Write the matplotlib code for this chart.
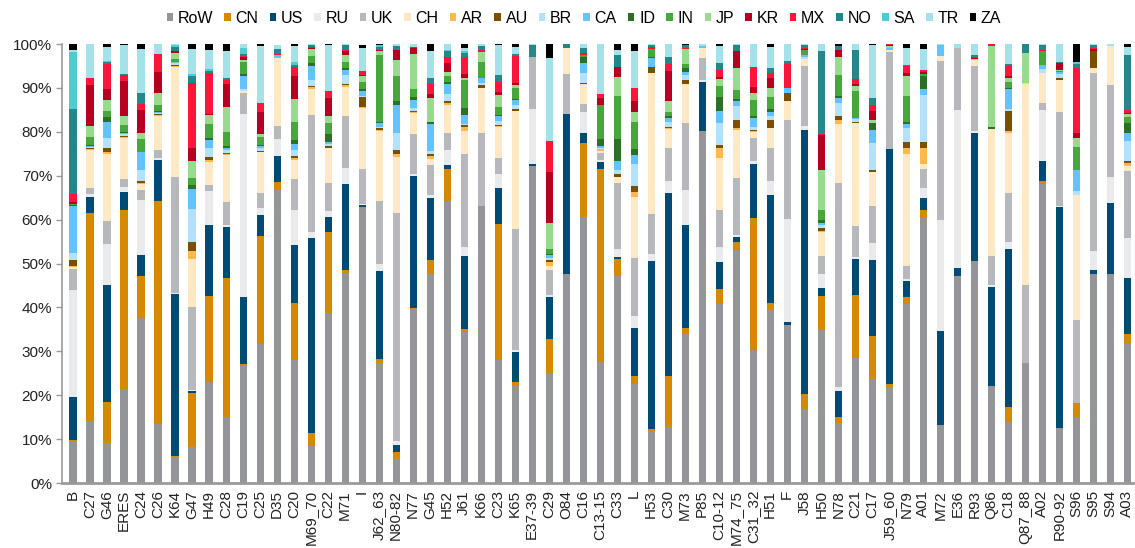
"""Stacked 100% bar chart of country shares by sector."""

import matplotlib

matplotlib.use("Agg")
import matplotlib.pyplot as plt
import numpy as np
from matplotlib.patches import Patch
from matplotlib.ticker import FuncFormatter

plt.rcParams["font.family"] = ["Liberation Sans", "DejaVu Sans"]

SECTORS = [
    "B", "C27", "G46", "ERES", "C24", "C26", "K64", "G47", "H49", "C28",
    "C19", "C25", "D35", "C20", "M69_70", "C22", "M71", "I", "J62_63", "N80-82",
    "N77", "G45", "H52", "J61", "K66", "C23", "K65", "E37-39", "C29", "O84",
    "C16", "C13-15", "C33", "L", "H53", "C30", "M73", "P85", "C10-12", "M74_75",
    "C31_32", "H51", "F", "J58", "H50", "N78", "C21", "C17", "J59_60", "N79",
    "A01", "M72", "E36", "R93", "Q86", "C18", "Q87_88", "A02", "R90-92", "S96",
    "S95", "S94", "A03",
]

COUNTRIES = ["RoW", "CN", "US", "RU", "UK", "CH", "AR", "AU", "BR", "CA",
             "ID", "IN", "JP", "KR", "MX", "NO", "SA", "TR", "ZA"]

# shares in percent, one value per sector (same order as SECTORS)
row = [9.6, 14.2, 9.0, 21.3, 37.7, 13.4, 6.0, 8.1, 23.1, 15.1,
       26.7, 31.6, 66.7, 28.0, 8.5, 38.8, 47.8, 62.6, 27.4, 5.4,
       39.6, 47.6, 64.2, 34.5, 63.2, 28.0, 22.1, 72.2, 25.1, 47.6,
       60.7, 27.6, 47.2, 22.5, 11.8, 12.8, 33.9, 80.2, 40.7, 53.1,
       30.3, 39.3, 36.1, 16.9, 34.9, 13.7, 28.4, 23.7, 21.8, 40.7,
       60.3, 13.2, 47.2, 50.6, 22.1, 14.0, 27.4, 68.1, 12.5, 15.1,
       47.5, 47.5, 31.8]
cn = [0.3, 47.3, 9.5, 40.9, 9.5, 50.8, 0.1, 12.5, 19.6, 31.5,
      0.3, 24.7, 1.9, 12.9, 3.0, 18.3, 0.7, 0.2, 0.8, 1.6,
      0.3, 3.2, 7.3, 0.6, 0, 31.0, 1.0, 0, 7.6, 0,
      16.8, 43.9, 3.8, 1.9, 0.6, 11.6, 1.3, 0, 3.5, 1.9,
      30.0, 1.8, 0, 3.4, 7.8, 1.4, 14.4, 9.9, 0.7, 1.7,
      1.9, 0, 0, 0, 0, 3.2, 0, 0.7, 0, 3.2,
      0, 0, 2.1]
us = [9.6, 3.7, 26.5, 4.2, 4.7, 9.4, 37.0, 0.4, 16.1, 11.8,
      15.4, 4.7, 5.9, 13.3, 44.4, 3.6, 19.6, 0.6, 20.1, 1.7,
      30.1, 14.2, 0.9, 16.5, 0, 8.1, 6.8, 0.5, 9.6, 36.5,
      2.3, 1.7, 0.4, 11.0, 38.2, 41.7, 23.6, 11.2, 6.2, 1.1,
      12.3, 24.5, 0.5, 60.0, 1.8, 5.9, 8.2, 17.2, 53.6, 3.7,
      2.8, 21.5, 1.7, 29.1, 22.6, 36.1, 0, 4.5, 50.3, 0,
      1.0, 16.2, 12.9]
ru = [24.5, 0.6, 9.4, 1.1, 12.6, 0.5, 0.2, 0.2, 7.8, 0.4,
      41.7, 1.6, 3.9, 8.0, 1.2, 1.3, 3.6, 0.2, 1.5, 0.9,
      0.4, 0.5, 3.5, 2.1, 0, 3.2, 0.4, 12.6, 0.5, 0,
      4.8, 0.4, 1.9, 2.6, 1.6, 2.8, 7.9, 0.4, 3.3, 0.5,
      0.8, 3.3, 23.5, 1.1, 3.0, 0.9, 0.5, 3.9, 0, 0.3,
      2.1, 25.2, 36.1, 0.4, 0.5, 1.7, 0, 11.7, 0.4, 0,
      4.3, 5.9, 8.9]
uk = [4.7, 1.4, 5.3, 1.7, 2.2, 1.8, 26.4, 18.8, 1.3, 5.3,
      4.8, 3.5, 2.9, 7.0, 26.7, 6.4, 12.0, 8.0, 14.5, 51.8,
      9.1, 6.9, 3.9, 21.2, 16.6, 3.8, 27.5, 11.8, 5.7, 9.0,
      1.7, 1.5, 15.0, 13.3, 9.1, 7.3, 15.2, 5.1, 8.5, 12.9,
      5.1, 7.3, 22.6, 13.7, 4.2, 46.4, 7.0, 8.4, 22.0, 3.0,
      4.4, 36.2, 14.2, 14.9, 6.5, 11.1, 17.7, 1.6, 21.2, 18.8,
      40.5, 21.1, 15.4]
ch = [0.4, 8.7, 15.2, 9.5, 1.4, 7.7, 25.1, 11.0, 5.3, 10.6,
      0.4, 9.2, 15.4, 4.4, 5.9, 7.8, 6.4, 13.8, 15.9, 12.8,
      4.7, 1.3, 6.3, 5.3, 10.1, 7.1, 27.0, 0, 1.0, 6.1,
      4.6, 0.5, 1.4, 13.9, 32.0, 4.4, 8.9, 2.1, 11.8, 11.0,
      1.5, 4.7, 4.4, 1.5, 5.4, 13.4, 23.4, 7.8, 0.5, 25.5,
      1.1, 1.2, 0, 1.4, 28.9, 13.6, 45.8, 6.7, 7.4, 28.4,
      1.2, 8.8, 1.1]
ar = [0.3, 0.2, 0.4, 0.2, 0.2, 0.2, 0.2, 1.8, 0.3, 0.2,
      0.1, 0.2, 0.1, 0.5, 0.4, 0.2, 0.5, 0.3, 0.3, 0.8,
      0.2, 0.8, 0.4, 0.8, 0, 0.2, 0, 0, 0.9, 0,
      0, 0.5, 0, 1.1, 0, 0.2, 0, 0, 2.2, 0.4,
      0.2, 0, 0, 0, 0.3, 1.0, 0, 0, 0, 1.5,
      3.6, 0, 0, 0.2, 0, 0.5, 0, 0.2, 0, 0,
      0, 0, 0.6]
au = [1.4, 0.2, 0.9, 0.2, 0.6, 0.3, 0.3, 2.1, 0.7, 0.3,
      0, 0.2, 0.1, 0.5, 0.4, 0.3, 0.3, 2.2, 0.3, 0.9,
      0.3, 0.4, 0.5, 0.6, 0.8, 0.2, 0.4, 0, 0.3, 0,
      0.3, 0, 0.7, 1.3, 1.4, 0.4, 1.0, 0, 0.8, 1.7,
      0.3, 1.8, 1.8, 0, 0.6, 0.8, 0.4, 0.4, 0, 1.2,
      1.4, 0, 0, 0, 0, 4.5, 0, 0, 0.4, 0,
      4.0, 0, 0.6]
br = [1.7, 0.3, 2.5, 0.3, 2.3, 0.2, 0.3, 7.5, 2.0, 0.6,
      0.3, 0.5, 0, 1.3, 1.3, 0.5, 2.0, 0.2, 0.2, 3.9,
      0.8, 0.8, 1.6, 0.2, 0.5, 0.9, 0.9, 0, 0.6, 0,
      2.3, 0.2, 1.0, 5.1, 0, 1.0, 1.1, 0, 5.1, 3.2,
      0.5, 0.8, 0, 0.4, 0.8, 3.1, 0.6, 6.1, 0, 3.2,
      10.8, 0, 0, 0, 0, 0.6, 0.3, 0.8, 0.9, 1.1,
      0, 0, 4.6]
ca = [10.6, 0.2, 3.6, 0.3, 4.1, 0.3, 0.2, 4.5, 1.9, 0.6,
      3.0, 0.5, 0.5, 1.3, 3.2, 0.5, 1.1, 1.3, 1.0, 6.3,
      1.7, 6.0, 2.3, 2.0, 1.0, 1.1, 1.1, 0, 0.6, 0,
      2.1, 0.5, 2.0, 2.1, 2.2, 0.9, 0.8, 0.6, 2.6, 1.3,
      2.2, 1.1, 1.1, 0.5, 0.4, 1.0, 0.3, 3.0, 0.6, 0.9,
      1.4, 2.5, 0, 0, 0, 4.4, 0, 1.0, 0.5, 4.8,
      0, 0, 1.7]
id_ = [0.3, 0.3, 1.1, 0.2, 0.2, 0.2, 0.2, 1.0, 0.4, 0.4,
       0.4, 0.2, 0, 0.9, 0.6, 1.9, 0.5, 0.4, 0.3, 0.9,
       0.8, 0.5, 0.5, 1.7, 0, 0.2, 0.2, 0, 0.2, 0,
       1.5, 1.5, 5.0, 1.3, 0.2, 0.5, 0.8, 0, 3.2, 0.4,
       0.4, 0.5, 0, 0, 0.7, 0.5, 0, 1.5, 0, 0.5,
       2.9, 0, 0, 0, 0.5, 0.2, 0, 0, 0, 0,
       0, 0, 2.4]
in_ = [0.2, 1.7, 1.3, 1.6, 2.9, 1.4, 0.5, 1.5, 3.3, 3.2,
       2.7, 2.0, 0, 4.1, 1.7, 2.5, 1.3, 1.5, 15.3, 5.6,
       1.7, 0, 1.2, 6.3, 3.8, 1.9, 2.5, 0, 1.2, 0,
       0.5, 7.7, 9.7, 6.1, 1.7, 0.8, 0.9, 0, 2.6, 2.1,
       3.6, 2.9, 0, 1.1, 2.3, 4.9, 6.2, 0, 0, 6.0,
       0.4, 0, 0, 0, 0, 1.5, 0, 3.0, 0.3, 5.2,
       0, 0, 1.3]
jp = [0, 2.5, 2.5, 2.1, 1.4, 2.7, 1.4, 4.0, 2.0, 5.6,
      0.5, 0.6, 0, 5.2, 1.6, 1.6, 1.6, 1.3, 0.7, 3.8,
      8.0, 5.4, 1.1, 0.5, 2.1, 2.7, 0.8, 0, 6.0, 0,
      0, 0.2, 4.4, 2.3, 0, 2.7, 3.4, 0, 1.5, 4.9,
      1.7, 1.9, 0, 0, 9.1, 4.1, 1.0, 0.8, 0.3, 4.6,
      0, 0, 0, 0, 18.4, 0.9, 6.8, 0, 0.2, 2.0,
      0, 0, 0.6]
kr = [0.3, 9.3, 2.5, 7.9, 5.1, 4.7, 0.4, 3.0, 0.2, 5.3,
      0.8, 5.0, 0.2, 5.4, 0.3, 4.1, 1.0, 0.4, 0.4, 2.2,
      1.3, 0.9, 2.0, 0.8, 0, 0.6, 0.4, 0, 11.5, 0,
      0, 1.4, 2.2, 2.5, 0, 6.8, 0, 0, 0.4, 3.9,
      1.4, 2.4, 0, 0.3, 8.0, 1.6, 0.4, 2.0, 0.2, 0.5,
      0.5, 0, 0, 0.3, 0, 0.5, 0, 0.2, 1.5, 1.2,
      0.3, 0, 0.3]
mx = [2.0, 1.7, 5.7, 1.5, 1.5, 4.1, 0.2, 14.8, 9.3, 0.9,
      0.2, 2.0, 0.1, 2.0, 0.2, 1.5, 0.2, 0.9, 0, 0,
      0.4, 2.4, 1.4, 4.0, 0.5, 2.3, 6.2, 0, 7.0, 0,
      0.3, 0.9, 0, 3.0, 0.5, 1.5, 0.2, 0, 1.7, 0,
      4.4, 1.0, 5.4, 0.3, 0.2, 0, 1.3, 1.4, 0.2, 1.7,
      0.5, 0, 0, 0.2, 0.5, 2.2, 0, 0.2, 0, 14.8,
      0.4, 0, 0.6]
no = [19.4, 0, 0.6, 0.2, 2.5, 0, 0.9, 1.5, 0.5, 0.4,
      0.4, 0, 1.1, 0.5, 0.3, 0, 1.1, 0, 0.7, 1.0,
      0, 1.4, 1.2, 0.8, 0.9, 1.7, 0.4, 2.7, 0, 0.8,
      1.1, 0, 2.9, 0, 0.4, 1.7, 0.8, 0, 1.5, 1.3,
      0, 1.2, 0.8, 0.5, 18.8, 0.8, 6.6, 1.5, 0, 0.2,
      0, 0, 0, 0.4, 0, 0.5, 2.0, 1.1, 0.4, 0.9,
      0.6, 0, 12.7]
sa = [12.8, 0, 0.2, 0, 0, 0, 0.3, 0.4, 0.6, 0,
      1.5, 0, 0, 0.6, 0, 0, 0, 0, 0.3, 0,
      0, 0, 0.4, 0.4, 0, 0, 0, 0, 0, 0,
      0, 0, 0, 0, 0, 0, 0, 0, 0, 0,
      0, 0, 0, 0, 0, 0, 0, 0, 0, 0,
      0, 0, 0, 0, 0, 0, 0, 0, 0, 0.4,
      0, 0, 0]
tr = [0.6, 7.8, 3.2, 6.6, 10.0, 2.4, 0.4, 5.7, 4.3, 6.1,
      0.8, 13.0, 1.0, 3.6, 0.2, 10.4, 0.4, 5.1, 0, 0.4,
      0.6, 6.2, 1.3, 0.9, 0.5, 6.8, 1.7, 0.2, 19.0, 0,
      1.0, 11.5, 1.1, 8.5, 0.2, 2.9, 0, 0.4, 4.0, 0.2,
      5.3, 4.9, 3.7, 0.2, 1.7, 0, 1.4, 12.2, 0.1, 4.0,
      4.8, 0.2, 0.8, 2.4, 0, 4.5, 0, 0.2, 4.0, 0,
      0.2, 0.5, 1.7]
za = [1.4, 0, 0.8, 0.2, 1.2, 0, 0.2, 1.4, 1.2, 1.7,
      0.2, 0.4, 0, 0.5, 0, 0.2, 0, 0.8, 0.2, 0,
      0, 1.5, 0, 0.8, 0, 0.2, 0.6, 0, 3.3, 0,
      0, 0, 1.4, 1.4, 0, 0, 0.2, 0, 0.4, 0,
      0, 0.6, 0, 0, 0, 0.6, 0, 0.2, 0, 0.8,
      1.1, 0, 0, 0, 0, 0, 0, 0, 0, 4.2,
      0, 0, 0.8]

SERIES = [row, cn, us, ru, uk, ch, ar, au, br, ca,
          id_, in_, jp, kr, mx, no, sa, tr, za]

COLORS = [
    "#939598", "#D68900", "#004B76", "#E9EAEC", "#B7B8BB", "#FFE9C5",
    "#FFB84A", "#7C4E00", "#B3E2FF", "#62C3FF", "#2E6F28", "#46A83A",
    "#98DB8E", "#B70021", "#FF1539", "#24888A", "#4DCCD2", "#A2E2E8",
    "#000000",
]

AXIS_GREY = "#9A9A9A"


def main() -> None:
    fig = plt.figure(figsize=(11.35, 5.48), dpi=100)
    ax = fig.add_axes([0.0546, 0.1186, 0.9454, 0.8011])

    x = np.arange(len(SECTORS))
    bottom = np.zeros(len(SECTORS))
    for values, color in zip(SERIES, COLORS):
        values = np.asarray(values, dtype=float)
        ax.bar(x, values, bottom=bottom, width=0.42, color=color,
               edgecolor="none", linewidth=0)
        bottom += values

    ax.set_xlim(-0.65, len(SECTORS) - 0.55)
    ax.set_ylim(0, 100)
    ax.set_yticks(np.arange(0, 101, 10))
    ax.yaxis.set_major_formatter(FuncFormatter(lambda v, _: f"{v:.0f}%"))
    ax.set_xticks(x)
    ax.set_xticklabels(SECTORS, rotation=90)

    ax.tick_params(axis="y", labelsize=11, length=4, width=1,
                   color=AXIS_GREY, pad=3, labelcolor="#222222")
    ax.tick_params(axis="x", labelsize=11, length=0, pad=5,
                   labelcolor="#222222")

    for side in ("top", "right"):
        ax.spines[side].set_visible(False)
    ax.spines["left"].set_color(AXIS_GREY)
    ax.spines["left"].set_linewidth(1.2)
    ax.spines["bottom"].set_color(AXIS_GREY)
    ax.spines["bottom"].set_linewidth(2)

    # small square swatches sitting close to their labels, like the source
    handles = [Patch(facecolor=c, edgecolor="none") for c in COLORS]
    fig.legend(handles, COUNTRIES, loc="center", ncol=len(COUNTRIES),
               bbox_to_anchor=(0.5145, 0.966), frameon=False, fontsize=11.5,
               handlelength=0.4, handleheight=0.4, handletextpad=0.3,
               columnspacing=0.7, borderaxespad=0, borderpad=0)

    fig.savefig("out.png", dpi=100, facecolor="white")
    plt.close(fig)


if __name__ == "__main__":
    main()
